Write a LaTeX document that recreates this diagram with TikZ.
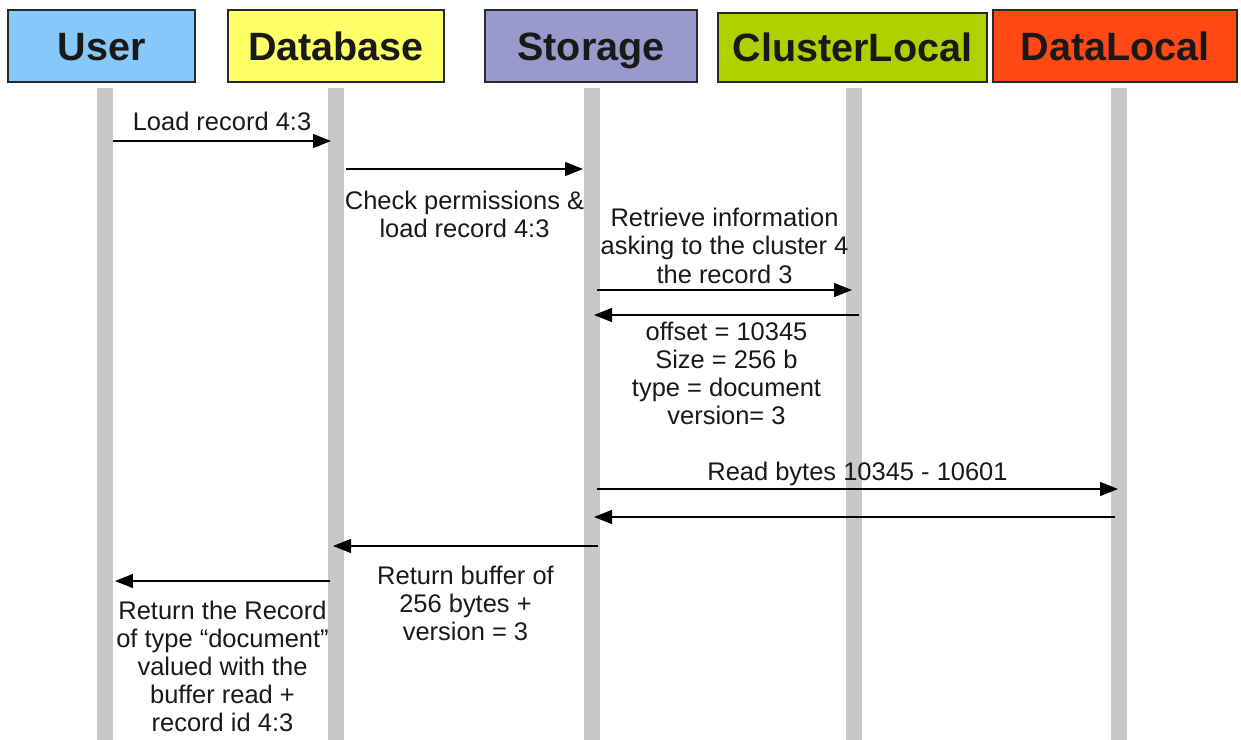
\documentclass[tikz,border=0pt]{standalone}
\usepackage{fontspec}
\setmainfont{Liberation Sans}
\usetikzlibrary{arrows.meta}

\definecolor{userblue}{RGB}{135,200,250}
\definecolor{dbyellow}{RGB}{255,255,102}
\definecolor{storagelilac}{RGB}{153,153,204}
\definecolor{clustergreen}{RGB}{176,208,0}
\definecolor{dataorange}{RGB}{255,72,20}
\definecolor{linegray}{RGB}{200,200,200}
\definecolor{framegray}{RGB}{40,40,40}
\definecolor{textgray}{RGB}{25,25,25}

\begin{document}
\begin{tikzpicture}[
    x=0.02cm, y=-0.02cm,
    actor/.style={
        draw=framegray,
        line width=0.8pt,
        minimum height=1.44cm,
        inner sep=0pt,
        text height=0.567cm,
        text depth=0pt,
        text=textgray,
        font=\fontsize{22.5pt}{27pt}\selectfont\bfseries
    },
    lifeline/.style={draw=linegray, line width=0.32cm},
    msg/.style={line width=0.75pt, -{Triangle[length=3.6mm,width=2.8mm]}},
    note/.style={font=\fontsize{14.5pt}{16pt}\selectfont, align=center, inner sep=0pt, text=textgray}
]
    \useasboundingbox (0,0) rectangle (1241,740);

    \foreach \name/\x in {user/105, database/336, storage/592, cluster/853.5, data/1118.5} {
        \coordinate (\name-top) at (\x,88);
        \coordinate (\name-bottom) at (\x,740);
        \draw[lifeline] (\name-top) -- (\name-bottom);
    }

    \node[actor, fill=userblue, minimum width=3.74cm] (user) at (101.5,46) {User};
    \node[actor, fill=dbyellow, minimum width=4.32cm] (database) at (336,46) {Database};
    \node[actor, fill=storagelilac, minimum width=4.24cm] (storage) at (591,46) {Storage};
    \node[actor, fill=clustergreen, minimum width=5.38cm, minimum height=1.38cm] (cluster) at (852.5,47.5) {ClusterLocal};
    \node[actor, fill=dataorange, minimum width=4.88cm] (data) at (1115,46) {DataLocal};

    \coordinate (load-src) at (113,141);
    \coordinate (load-dst) at (331,141);
    \coordinate (check-src) at (346,169);
    \coordinate (check-dst) at (583,169);
    \coordinate (ask-src) at (597,290);
    \coordinate (ask-dst) at (852,290);
    \coordinate (info-src) at (859,315);
    \coordinate (info-dst) at (594,315);
    \coordinate (read-src) at (597,489);
    \coordinate (read-dst) at (1118,489);
    \coordinate (bytes-src) at (1115,517);
    \coordinate (bytes-dst) at (594,517);
    \coordinate (buffer-src) at (598,546);
    \coordinate (buffer-dst) at (333,546);
    \coordinate (record-src) at (330,581);
    \coordinate (record-dst) at (115,581);

    \draw[msg] (load-src) -- node[note, above=0.2cm] (load-label) {Load record 4:3} (load-dst);
    \draw[msg] (check-src) -- node[note, below=0.42cm] (check-label) {Check permissions \&\\load record 4:3} (check-dst);
    \draw[msg] (ask-src) -- node[note, above=0.12cm] (ask-label) {Retrieve information\\asking to the cluster 4\\the record 3} (ask-dst);
    \draw[msg] (info-src) -- node[note, below=0.12cm] (info-label) {offset = 10345\\Size = 256 b\\type = document\\version= 3} (info-dst);
    \draw[msg] (read-src) -- node[note, above=0.06cm] (read-label) {Read bytes 10345 - 10601} (read-dst);
    \draw[msg] (bytes-src) -- (bytes-dst);
    \draw[msg] (buffer-src) -- node[note, below=0.38cm] (buffer-label) {Return buffer of\\256 bytes +\\version = 3} (buffer-dst);
    \draw[msg] (record-src) -- node[note, below=0.38cm] (record-label) {Return the Record\\of type “document”\\valued with the\\buffer read +\\record id 4:3} (record-dst);
\end{tikzpicture}
\end{document}
